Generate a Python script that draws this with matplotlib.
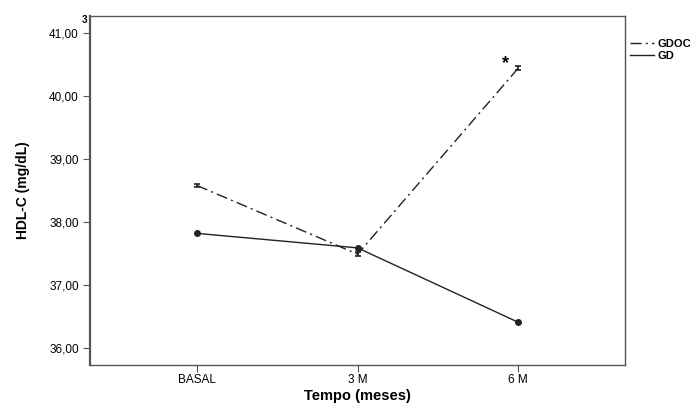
import matplotlib.pyplot as plt
from matplotlib.lines import Line2D

# Dados
tempos = ["BASAL", "3 M", "6 M"]
gdoc = [38.58, 37.49, 40.44]
gd = [37.82, 37.59, 36.41]
gdoc_err = [0.03, 0.03, 0.03]

plt.rcParams["font.family"] = ["Liberation Sans", "DejaVu Sans"]

fig = plt.figure(figsize=(7.0, 4.03), dpi=100)
ax = fig.add_axes([0.1286, 0.0943, 0.7644, 0.8657])

x = range(len(tempos))
ax.errorbar(x, gdoc, yerr=gdoc_err, color="#222222", linestyle=(0, (8, 3, 1.5, 3)),
            linewidth=1.0, capsize=2.5, capthick=1.2, elinewidth=1.2)
ax.plot(x, gd, color="#222222", linewidth=1.0, marker="o", markersize=4)

ax.text(1.92, 40.52, "*", fontsize=13, fontweight="bold", ha="center", va="center")

ax.set_xlim(-0.667, 2.667)
ax.set_ylim(35.73, 41.27)
ax.set_xticks(list(x))
ax.set_xticklabels(tempos, fontsize=8.5)
ax.set_yticks([36, 37, 38, 39, 40, 41])
ax.set_yticklabels(["36,00", "37,00", "38,00", "39,00", "40,00", "41,00"], fontsize=8.5)
ax.tick_params(direction="out", length=5, color="#555555", pad=3)
ax.tick_params(axis="x", pad=1.5)
for s in ax.spines.values():
    s.set_color("#555555")
    s.set_linewidth(1.0)
ax.spines["left"].set_linewidth(1.6)

ax.set_ylabel("HDL-C (mg/dL)", fontsize=10, fontweight="bold", labelpad=14)
ax.set_xlabel("Tempo (meses)", fontsize=10.5, fontweight="bold", labelpad=2)

# legenda fora do gráfico
handles = [Line2D([], [], color="#222222", linestyle=(0, (8, 3, 1.5, 3)), linewidth=1.0),
           Line2D([], [], color="#222222", linewidth=1.0)]
fig.legend(handles, ["GDOC", "GD"], loc="upper left", bbox_to_anchor=(0.893, 0.915),
           frameon=False, prop={"weight": "bold", "size": 8},
           handlelength=2.2, handletextpad=0.3, labelspacing=0.2, borderaxespad=0)

fig.text(0.117, 0.943, "3", fontsize=7, fontweight="bold")

plt.savefig("out.png", dpi=100)
